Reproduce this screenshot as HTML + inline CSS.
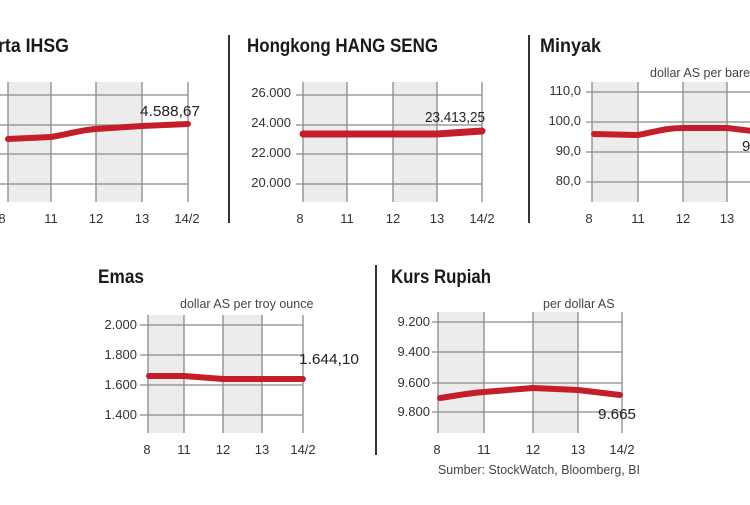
<!DOCTYPE html>
<html><head><meta charset="utf-8"><style>
body{margin:0;background:#fff}
svg text{font-family:"Liberation Sans Narrow","Liberation Sans",sans-serif;fill:#333}
.t{font-size:19px;font-weight:bold;fill:#1a1a1a}
.y{font-size:13px;text-anchor:end;fill:#444}
.x{font-size:13px;text-anchor:middle;fill:#444}
.v{font-size:15px;fill:#222}
.s{font-size:12.5px;fill:#444}
.g{stroke:#8a8a8a;stroke-width:1.3}
.sh{fill:#ececec}
.r{fill:none;stroke:#c41e2a;stroke-width:6;stroke-linecap:round;stroke-linejoin:round}
.d{stroke:#333;stroke-width:2}
</style></head><body>
<svg width="750" height="500" viewBox="0 0 750 500" xmlns="http://www.w3.org/2000/svg">
<!-- Panel 1 IHSG -->
<text class="t" x="-2" y="52" textLength="71" lengthAdjust="spacingAndGlyphs">rta IHSG</text>
<rect class="sh" x="8" y="82" width="43" height="120"/>
<rect class="sh" x="96" y="82" width="46" height="120"/>
<g class="g"><line x1="0" y1="95" x2="188" y2="95"/><line x1="0" y1="125" x2="188" y2="125"/><line x1="0" y1="154" x2="188" y2="154"/><line x1="0" y1="184" x2="188" y2="184"/>
<line x1="51" y1="82" x2="51" y2="202"/><line x1="96" y1="82" x2="96" y2="202"/><line x1="142" y1="82" x2="142" y2="202"/><line x1="188" y1="82" x2="188" y2="202"/><line x1="8" y1="82" x2="8" y2="202"/></g>
<path class="r" d="M8 139 L51 137 C70 134 80 130 96 129 L142 126 L188 124"/>
<text class="v" x="140" y="116" textLength="60" lengthAdjust="spacingAndGlyphs">4.588,67</text>
<g class="x"><text x="2" y="223">8</text><text x="51" y="223">11</text><text x="96" y="223">12</text><text x="142" y="223">13</text><text x="187" y="223">14/2</text></g>
<line class="d" x1="229" y1="35" x2="229" y2="223"/>
<!-- Panel 2 Hang Seng -->
<text class="t" x="247" y="52" textLength="191" lengthAdjust="spacingAndGlyphs">Hongkong HANG SENG</text>
<rect class="sh" x="303" y="82" width="44" height="120"/>
<rect class="sh" x="393" y="82" width="44" height="120"/>
<g class="g"><line x1="296" y1="95" x2="482" y2="95"/><line x1="296" y1="125" x2="482" y2="125"/><line x1="296" y1="154" x2="482" y2="154"/><line x1="296" y1="184" x2="482" y2="184"/>
<line x1="303" y1="82" x2="303" y2="202"/><line x1="347" y1="82" x2="347" y2="202"/><line x1="393" y1="82" x2="393" y2="202"/><line x1="437" y1="82" x2="437" y2="202"/><line x1="482" y1="82" x2="482" y2="202"/></g>
<g class="y"><text x="291" y="97">26.000</text><text x="291" y="127">24.000</text><text x="291" y="157">22.000</text><text x="291" y="187">20.000</text></g>
<path class="r" d="M303 134 L437 134 L482 131" style="stroke-width:7"/>
<text class="v" x="425" y="122" textLength="60" lengthAdjust="spacingAndGlyphs">23.413,25</text>
<g class="x"><text x="300" y="223">8</text><text x="347" y="223">11</text><text x="393" y="223">12</text><text x="437" y="223">13</text><text x="482" y="223">14/2</text></g>
<line class="d" x1="529" y1="35" x2="529" y2="223"/>
<!-- Panel 3 Minyak -->
<text class="t" x="540" y="52" textLength="61" lengthAdjust="spacingAndGlyphs">Minyak</text>
<text class="s" x="650" y="77">dollar AS per barel</text>
<rect class="sh" x="592" y="82" width="46" height="120"/>
<rect class="sh" x="683" y="82" width="44" height="120"/>
<g class="g"><line x1="586" y1="92" x2="750" y2="92"/><line x1="586" y1="122" x2="750" y2="122"/><line x1="586" y1="152" x2="750" y2="152"/><line x1="586" y1="182" x2="750" y2="182"/>
<line x1="592" y1="82" x2="592" y2="202"/><line x1="638" y1="82" x2="638" y2="202"/><line x1="683" y1="82" x2="683" y2="202"/><line x1="727" y1="82" x2="727" y2="202"/></g>
<g class="y"><text x="581" y="95">110,0</text><text x="581" y="125">100,0</text><text x="581" y="155">90,0</text><text x="581" y="185">80,0</text></g>
<path class="r" d="M594 134 L638 135 C655 132 665 128 683 128 L727 128 L752 131"/>
<text class="v" x="742" y="151">9</text>
<g class="x"><text x="589" y="223">8</text><text x="638" y="223">11</text><text x="683" y="223">12</text><text x="727" y="223">13</text></g>
<!-- Emas -->
<text class="t" x="98" y="283" textLength="46" lengthAdjust="spacingAndGlyphs">Emas</text>
<text class="s" x="180" y="308">dollar AS per troy ounce</text>
<rect class="sh" x="148" y="315" width="36" height="118"/>
<rect class="sh" x="223" y="315" width="39" height="118"/>
<g class="g"><line x1="140" y1="325" x2="303" y2="325"/><line x1="140" y1="355" x2="303" y2="355"/><line x1="140" y1="385" x2="303" y2="385"/><line x1="140" y1="415" x2="303" y2="415"/>
<line x1="148" y1="315" x2="148" y2="433"/><line x1="184" y1="315" x2="184" y2="433"/><line x1="223" y1="315" x2="223" y2="433"/><line x1="262" y1="315" x2="262" y2="433"/><line x1="303" y1="315" x2="303" y2="433"/></g>
<g class="y"><text x="137" y="329">2.000</text><text x="137" y="359">1.800</text><text x="137" y="389">1.600</text><text x="137" y="419">1.400</text></g>
<path class="r" d="M149 376 L184 376 L223 379 L303 379"/>
<text class="v" x="299" y="364" textLength="60" lengthAdjust="spacingAndGlyphs">1.644,10</text>
<g class="x"><text x="147" y="454">8</text><text x="184" y="454">11</text><text x="223" y="454">12</text><text x="262" y="454">13</text><text x="303" y="454">14/2</text></g>
<line class="d" x1="376" y1="265" x2="376" y2="455"/>
<!-- Kurs Rupiah -->
<text class="t" x="391" y="283" textLength="100" lengthAdjust="spacingAndGlyphs">Kurs Rupiah</text>
<text class="s" x="543" y="308">per dollar AS</text>
<rect class="sh" x="438" y="312" width="46" height="121"/>
<rect class="sh" x="533" y="312" width="45" height="121"/>
<g class="g"><line x1="432" y1="322" x2="622" y2="322"/><line x1="432" y1="352" x2="622" y2="352"/><line x1="432" y1="383" x2="622" y2="383"/><line x1="432" y1="412" x2="622" y2="412"/>
<line x1="438" y1="312" x2="438" y2="433"/><line x1="484" y1="312" x2="484" y2="433"/><line x1="533" y1="312" x2="533" y2="433"/><line x1="578" y1="312" x2="578" y2="433"/><line x1="622" y1="312" x2="622" y2="433"/></g>
<g class="y"><text x="430" y="326">9.200</text><text x="430" y="356">9.400</text><text x="430" y="387">9.600</text><text x="430" y="416">9.800</text></g>
<path class="r" d="M440 398 C460 395 470 393 484 392 L533 388 L578 390 L620 395"/>
<text class="v" x="598" y="419" textLength="38" lengthAdjust="spacingAndGlyphs">9.665</text>
<g class="x"><text x="437" y="454">8</text><text x="484" y="454">11</text><text x="533" y="454">12</text><text x="578" y="454">13</text><text x="622" y="454">14/2</text></g>
<text class="s" x="438" y="474" textLength="202" lengthAdjust="spacingAndGlyphs">Sumber: StockWatch, Bloomberg, BI</text>
</svg>
</body></html>
